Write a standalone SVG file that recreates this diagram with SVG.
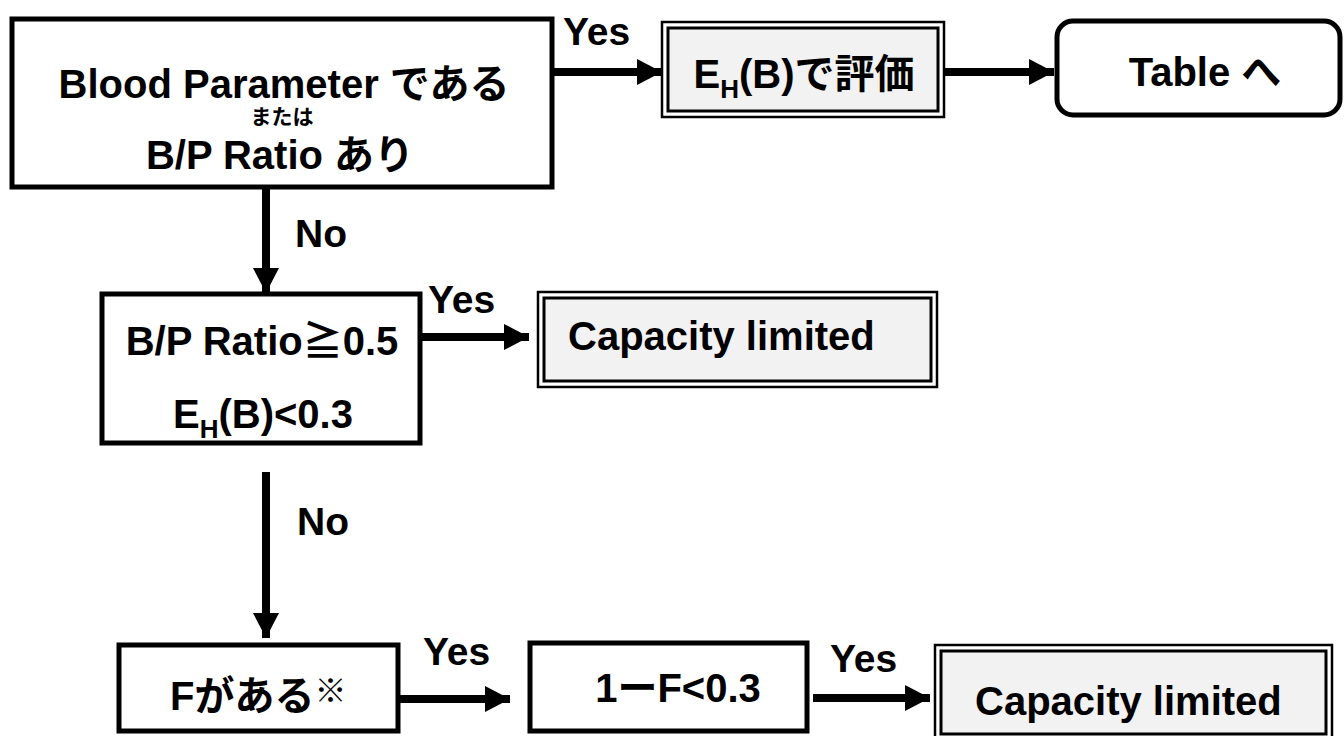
<svg xmlns="http://www.w3.org/2000/svg" width="1344" height="736" viewBox="0 0 1344 736">
<defs>
<style>
text{font-family:"Liberation Sans","Noto Sans CJK JP",sans-serif;font-weight:bold;fill:#000}
.box{fill:#fff;stroke:#000;stroke-width:5}
.outer{fill:#fff;stroke:#000;stroke-width:2.5}
.inner{fill:#f2f2f2;stroke:#000;stroke-width:3}
.conn{stroke:#000;stroke-width:8;fill:none}
.t40{font-size:40px}
.lbl{font-size:39px}
</style>
<marker id="ah" viewBox="0 0 25 26" refX="25" refY="13" markerWidth="25" markerHeight="26" markerUnits="userSpaceOnUse" orient="auto">
<path d="M0,0 L25,13 L0,26 Z" fill="#000"/>
</marker>
</defs>
<rect width="1344" height="736" fill="#fff"/>

<g id="connectors">
<line class="conn" x1="552" y1="72" x2="662" y2="72" marker-end="url(#ah)"/>
<line class="conn" x1="944" y1="72" x2="1054" y2="72" marker-end="url(#ah)"/>
<line class="conn" x1="266" y1="187" x2="266" y2="293" marker-end="url(#ah)"/>
<line class="conn" x1="420" y1="337" x2="529" y2="337" marker-end="url(#ah)"/>
<line class="conn" x1="266" y1="472" x2="266" y2="638" marker-end="url(#ah)"/>
<line class="conn" x1="398" y1="699" x2="510" y2="699" marker-end="url(#ah)"/>
<line class="conn" x1="813" y1="698" x2="930" y2="698" marker-end="url(#ah)"/>
<text class="lbl" x="563" y="45">Yes</text>
<text class="lbl" x="295" y="247">No</text>
<text class="lbl" x="428" y="313">Yes</text>
<text class="lbl" x="297" y="535">No</text>
<text class="lbl" x="423" y="665">Yes</text>
<text class="lbl" x="830" y="672">Yes</text>
</g>

<g id="n-blood">
<rect class="box" x="12" y="19" width="540" height="168"/>
<text class="t40" x="284" y="98" text-anchor="middle">Blood Parameter である</text>
<text x="282" y="124" text-anchor="middle" font-size="21">または</text>
<text class="t40" x="280" y="169" text-anchor="middle">B/P Ratio あり</text>
</g>

<g id="n-eh">
<rect class="outer" x="662" y="22" width="282" height="95"/>
<rect class="inner" x="668" y="28" width="270" height="83"/>
<text class="t40" x="804" y="88" text-anchor="middle">E<tspan font-size="26" dy="10">H</tspan><tspan dy="-10">(B)で評価</tspan></text>
</g>

<g id="n-table">
<rect class="box" x="1057" y="21" width="283" height="94" rx="16"/>
<text class="t40" x="1205" y="86" text-anchor="middle">Table へ</text>
</g>

<g id="n-bp">
<rect class="box" x="102" y="294" width="318" height="149"/>
<text class="t40" x="262" y="355" text-anchor="middle">B/P Ratio≧0.5</text>
<text class="t40" x="263" y="428" text-anchor="middle">E<tspan font-size="26" dy="10">H</tspan><tspan dy="-10">(B)&lt;0.3</tspan></text>
</g>

<g id="n-cap1">
<rect class="outer" x="538" y="292" width="399" height="95"/>
<rect class="inner" x="544" y="298" width="387" height="83"/>
<text class="t40" x="568" y="350">Capacity limited</text>
</g>

<g id="n-f">
<rect class="box" x="119" y="645" width="279" height="86"/>
<text class="t40" x="170" y="710">Fがある<tspan font-size="32" dy="-8">※</tspan></text>
</g>

<g id="n-1f">
<rect class="box" x="530" y="643" width="277" height="88"/>
<text class="t40" x="678" y="702" text-anchor="middle">1ーF&lt;0.3</text>
</g>

<g id="n-cap2">
<rect class="outer" x="935" y="645" width="397" height="95"/>
<rect class="inner" x="941" y="651" width="385" height="83"/>
<text class="t40" x="975" y="715">Capacity limited</text>
</g>
</svg>
